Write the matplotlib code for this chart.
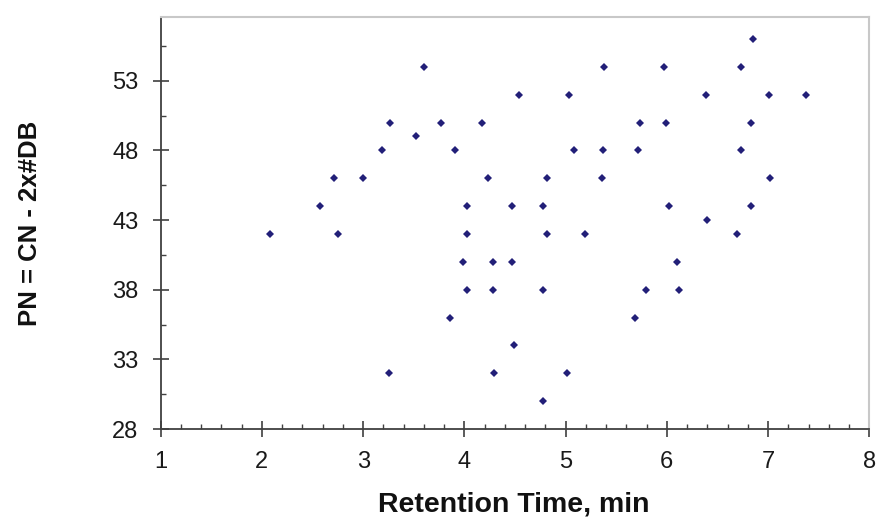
import numpy as np
import matplotlib
matplotlib.use("Agg")
import matplotlib.pyplot as plt
from matplotlib.ticker import MultipleLocator, FixedLocator

plt.rcParams['font.family'] = ['Liberation Sans', 'DejaVu Sans']

# retention time (min) and PN values
rt = [3.60, 3.27, 3.77, 4.17, 3.52, 3.19, 3.91, 2.71, 3.00, 4.23,
      2.57, 4.03, 4.47, 6.85, 5.38, 5.97, 6.73, 4.54, 5.03, 6.39,
      7.01, 7.37, 5.73, 5.99, 6.83, 5.08, 5.37, 5.72, 6.73, 4.82,
      5.36, 7.02, 4.78, 6.02, 6.83, 6.40, 2.08, 2.75, 4.03, 3.99,
      4.28, 4.47, 4.03, 4.28, 3.86, 3.26, 4.29, 4.82, 5.19, 6.69,
      6.10, 4.78, 5.79, 6.12, 5.69, 4.49, 5.01, 4.78]
pn = [54, 50, 50, 50, 49, 48, 48, 46, 46, 46,
      44, 44, 44, 56, 54, 54, 54, 52, 52, 52,
      52, 52, 50, 50, 50, 48, 48, 48, 48, 46,
      46, 46, 44, 44, 44, 43, 42, 42, 42, 40,
      40, 40, 38, 38, 36, 32, 32, 42, 42, 42,
      40, 38, 38, 38, 36, 34, 32, 30]

xticks = [1, 2, 3, 4, 5, 6, 7, 8]
yticks = [28, 33, 38, 43, 48, 53]

fig = plt.figure(figsize=(8.77, 5.2), dpi=100)
ax = fig.add_axes([160.7/877, 1-429/520, 708.6/877, 412.3/520])

ax.plot(rt, pn, linestyle='none', marker='D', markersize=3.9,
        color='#221f78', markeredgewidth=0)

ax.set_xlim(1, 8)
ax.set_ylim(28, 57.6)
ax.xaxis.set_major_locator(FixedLocator(xticks))
ax.xaxis.set_minor_locator(MultipleLocator(0.2))
ax.yaxis.set_major_locator(FixedLocator(yticks))
ax.yaxis.set_minor_locator(FixedLocator(np.arange(30.5, 57, 5)))

ax.tick_params(which='major', direction='inout', length=12, width=1.2,
               color='#404040', labelsize=17, pad=10, labelcolor='#1a1a1a')
ax.tick_params(which='minor', direction='in', length=3.6, width=1.0,
               color='#404040')

for s in ['left', 'bottom']:
    ax.spines[s].set_color('#404040')
    ax.spines[s].set_linewidth(1.3)
for s in ['top', 'right']:
    ax.spines[s].set_color('#c8c8c8')
    ax.spines[s].set_linewidth(1.5)

fig.text(514/877, 8/520, 'Retention Time, min', ha='center', va='baseline',
         fontsize=20.5, fontweight='bold', color='#111111')
fig.text(36.7/877, 1-223/520, 'PN = CN - 2x#DB', rotation=90,
         rotation_mode='anchor', ha='center', va='baseline',
         fontsize=18.5, fontweight='bold', color='#111111')

fig.savefig('out.png', dpi=100)
